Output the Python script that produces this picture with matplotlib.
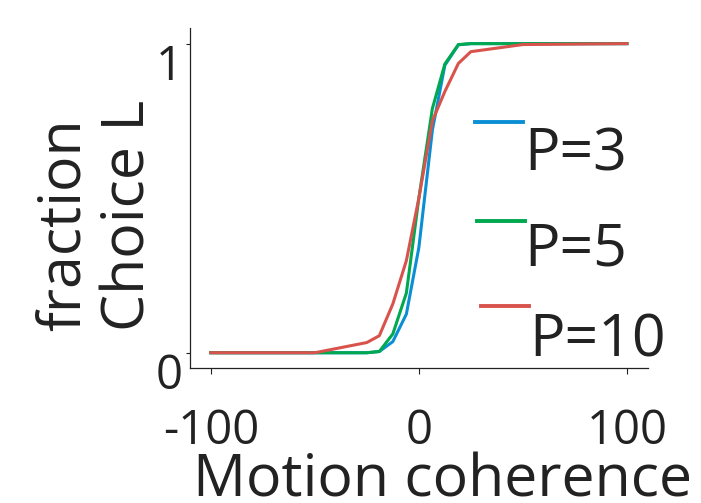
import matplotlib
matplotlib.use("Agg")
from matplotlib import pyplot as plt
from matplotlib.lines import Line2D

# coherence levels (%)
coherence = [-100, -50, -25, -19, -12.5, -6, 0, 6.5, 12.5, 19, 25, 50, 100]

# fraction of "choice L" for each P
p3 = [0, 0, 0, 0.004, 0.036, 0.125, 0.34, 0.72, 0.93, 0.996, 1, 1, 1]
p5 = [0, 0, 0, 0.004, 0.061, 0.193, 0.50, 0.79, 0.934, 0.997, 1, 1, 1]
p10 = [0, 0, 0.033, 0.055, 0.158, 0.298, 0.50, 0.75, 0.845, 0.936, 0.974, 0.997, 1]

labels = ["P=3", "P=5", "P=10"]
colors = ["#0a8fd4", "#00a84f", "#d9534d"]

xticks = [-100, 0, 100]
yticks = [0, 1]

plt.rcParams["font.family"] = ["Open Sans", "DejaVu Sans"]

fig = plt.figure(figsize=(7.01, 5.03), dpi=100)
ax = fig.add_axes([0.271, 0.268, 0.653, 0.676])

for ys, c in zip([p3, p5, p10], colors):
    ax.plot(coherence, ys, color=c, lw=2.2)

ax.set_xlim(-110, 110)
ax.set_ylim(-0.05, 1.05)
ax.set_xticks(xticks)
ax.set_yticks(yticks)
ax.set_xticklabels([str(t) for t in xticks], fontsize=34)
ax.set_yticklabels([str(t) for t in yticks], fontsize=34)
for lab in ax.get_yticklabels():
    lab.set_va("top")

ax.tick_params(axis="x", direction="out", length=4, width=0.8, pad=24, colors="#222222")
ax.tick_params(axis="y", direction="out", length=3, width=0.8, pad=2, colors="#222222")

for side in ["top", "right"]:
    ax.spines[side].set_visible(False)
for side in ["left", "bottom"]:
    ax.spines[side].set_linewidth(0.9)
    ax.spines[side].set_color("#222222")

ax.set_xlabel("Motion coherence", fontsize=42.5, color="#222222")
ax.xaxis.set_label_coords(0.552, -0.245)
ax.set_ylabel("fraction\nChoice L", fontsize=42.5, color="#222222",
              multialignment="left", linespacing=1.12)
ax.yaxis.set_label_coords(-0.068, 0.45)

# legend drawn by hand: short line sitting above each label, like the original
line_y = [0.724, 0.432, 0.182]
line_x0 = [0.622, 0.627, 0.635]
text_x = [0.731, 0.731, 0.742]
text_y = [0.582, 0.303, 0.033]
for i in range(len(labels)):
    ax.add_line(Line2D([line_x0[i], line_x0[i] + 0.105], [line_y[i], line_y[i]],
                       transform=ax.transAxes, color=colors[i], lw=2.8, clip_on=False))
    ax.text(text_x[i], text_y[i], labels[i], transform=ax.transAxes,
            fontsize=42.5, color="#222222", va="baseline", ha="left")

fig.savefig("out.png", dpi=100)
